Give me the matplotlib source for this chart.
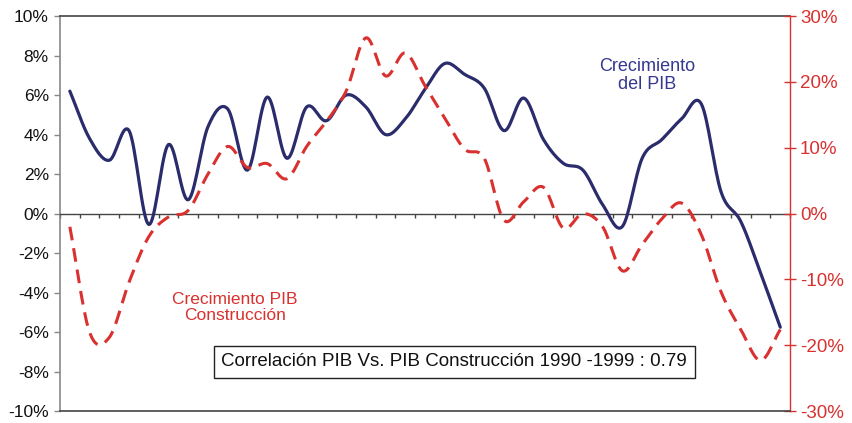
import numpy as np
import matplotlib
matplotlib.use("Agg")
import matplotlib.pyplot as plt
from matplotlib.ticker import FuncFormatter

# trimestres 1990T1 - 1999T1
quarters = [f"{1990 + q // 4}T{q % 4 + 1}" for q in range(37)]

pib = [6.2, 3.8, 2.7, 4.2, -0.55, 3.5, 0.7, 4.4, 5.3, 2.2, 5.9, 2.8, 5.4,
       4.7, 6.0, 5.4, 4.0, 4.8, 6.3, 7.6, 7.05, 6.35, 4.2, 5.85, 3.75, 2.55,
       2.2, 0.45, -0.65, 2.8, 3.75, 4.8, 5.55, 1.1, -0.4, -3.0, -5.75]

pib_constr = [-2.0, -18.0, -18.8, -10.4, -3.5, -0.5, 0.5, 6.0, 10.2, 7.0,
              7.6, 5.3, 10.2, 14.0, 18.6, 26.7, 20.9, 24.4, 19.4, 14.5, 9.8,
              8.4, -1.0, 1.8, 4.0, -2.2, 0.0, -2.0, -8.7, -4.7, -0.8, 1.6,
              -3.2, -11.9, -17.6, -22.3, -17.6]

left_ticks = [-10, -8, -6, -4, -2, 0, 2, 4, 6, 8, 10]
right_ticks = [-30, -20, -10, 0, 10, 20, 30]

NAVY = "#2a2c6c"
RED = "#d8312f"


def smooth(y, n=16):
    # curva suavizada tipo Excel (Catmull-Rom)
    y = np.asarray(y, float)
    p = np.concatenate([[2 * y[0] - y[1]], y, [2 * y[-1] - y[-2]]])
    xs, ys = [], []
    for i in range(len(y) - 1):
        p0, p1, p2, p3 = p[i], p[i + 1], p[i + 2], p[i + 3]
        t = np.linspace(0, 1, n, endpoint=False)
        ys.append(0.5 * (2 * p1 + (p2 - p0) * t + (2 * p0 - 5 * p1 + 4 * p2 - p3) * t ** 2
                         + (3 * p1 - p0 - 3 * p2 + p3) * t ** 3))
        xs.append(i + t)
    xs.append([len(y) - 1])
    ys.append([y[-1]])
    return np.concatenate(xs), np.concatenate(ys)


plt.rcParams["font.family"] = ["Liberation Sans", "DejaVu Sans"]

fig = plt.figure(figsize=(8.52, 4.23), dpi=100)
ax = fig.add_axes([0.0704, 0.028, 0.857, 0.934])
ax2 = ax.twinx()

n = len(quarters)
x = np.arange(n)
ax.set_xlim(-0.5, n - 0.5)
ax.set_ylim(-10, 10)
ax2.set_ylim(-30, 30)

xs, ys = smooth(pib)
ax.plot(xs, ys, color=NAVY, lw=2.3, solid_capstyle="round", zorder=4)
xs, ys = smooth(pib_constr)
ax2.plot(xs, ys, color=RED, lw=2.2, dashes=(4.5, 2.6), zorder=3)

# eje de categorias sobre el cero
ax.spines["bottom"].set_position(("data", 0))
ax.spines["bottom"].set_color("#444444")
ax.spines["bottom"].set_linewidth(1.0)
ax.set_xticks(np.arange(n + 1) - 0.5)
ax.set_xticklabels([])
ax.tick_params(axis="x", direction="out", length=3, width=1.0, color="#444444")

ax.spines["left"].set_color("#888888")
ax.spines["left"].set_linewidth(1.2)
ax.spines["top"].set_color("#444444")
ax.spines["top"].set_linewidth(1.2)
ax.spines["right"].set_visible(False)

ax2.spines["left"].set_visible(False)
ax2.spines["top"].set_visible(False)
ax2.spines["bottom"].set_color("#444444")
ax2.spines["bottom"].set_linewidth(1.2)
ax2.spines["right"].set_color(RED)
ax2.spines["right"].set_linewidth(1.0)

ax.set_yticks(left_ticks)
ax.yaxis.set_major_formatter(FuncFormatter(lambda v, p: f"{v:.0f}%"))
ax.tick_params(axis="y", direction="out", length=4, width=1.0, color="#888888",
               labelsize=12.5, labelcolor="#111111", pad=4)

ax2.set_yticks(right_ticks)
ax2.yaxis.set_major_formatter(FuncFormatter(lambda v, p: f"{v:.0f}%"))
ax2.tick_params(axis="y", direction="inout", length=8, width=1.0, color=RED,
                labelsize=13.5, labelcolor=RED, pad=3)
ax2.tick_params(axis="x", bottom=False, labelbottom=False)

ax.text(0.804, 0.85, "Crecimiento\ndel PIB", transform=ax.transAxes,
        ha="center", va="center", color="#353890", fontsize=13, linespacing=1.1)
ax.text(0.24, 0.263, "Crecimiento PIB\nConstrucción", transform=ax.transAxes,
        ha="center", va="center", color=RED, fontsize=12.5, linespacing=1.05)
ax.text(0.54, 0.125, "Correlación PIB Vs. PIB Construcción 1990 -1999 : 0.79",
        transform=ax.transAxes, ha="center", va="center", color="#111111",
        fontsize=13.5, zorder=6,
        bbox=dict(boxstyle="square,pad=0.4", fc="white", ec="#222222", lw=1.0))

fig.savefig("out.png", dpi=100)
